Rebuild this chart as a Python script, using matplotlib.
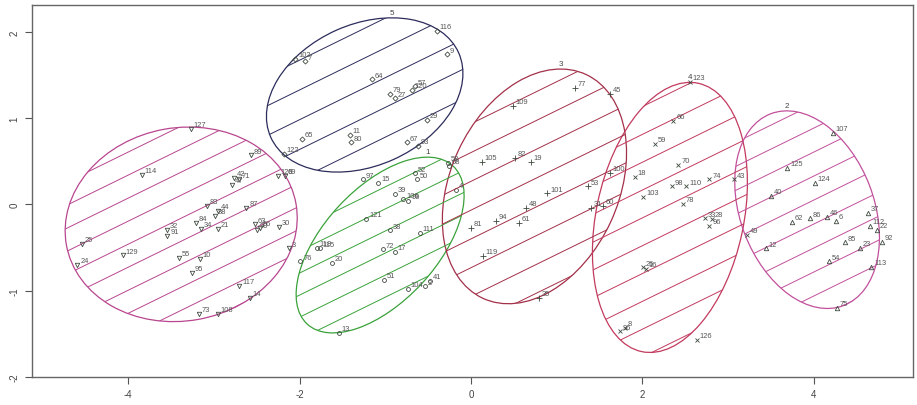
import numpy as np
import matplotlib.pyplot as plt
from matplotlib.patches import Ellipse
from matplotlib.collections import LineCollection

# cluster 6 (left, down triangles)
c6_x = [-3.27, -3.84, -2.57, -2.76, -2.71, -2.79, -2.25, -2.17, -3.08, -2.95, -2.99, -2.62,
        -3.21, -3.15, -2.95, -3.55, -3.54, -2.52, -2.50, -2.46, -2.24, -4.54, -4.06, -4.59,
        -2.12, -3.41, -3.16, -3.25, -2.70, -2.58, -3.17, -2.95]
c6_y = [0.88, 0.34, 0.57, 0.31, 0.29, 0.23, 0.33, 0.33, -0.02, -0.07, -0.13, -0.04,
        -0.21, -0.28, -0.28, -0.29, -0.36, -0.23, -0.29, -0.27, -0.26, -0.46, -0.59, -0.70,
        -0.51, -0.62, -0.63, -0.79, -0.94, -1.08, -1.27, -1.27]
c6_lab = ["127", "114", "89", "42", "71", "47", "128", "69", "83", "44", "88", "87",
          "84", "34", "21", "32", "91", "63", "90", "56", "30", "25", "129", "24",
          "3", "55", "10", "95", "117", "14", "73", "108"]

# cluster 5 (top, diamonds)
c5_x = [-0.40, -2.05, -1.94, -0.28, -1.16, -0.95, -0.89, -0.69, -0.65, -0.51, -1.97, -1.41,
        -1.40, -0.75, -0.62, -2.18]
c5_y = [2.01, 1.69, 1.66, 1.74, 1.45, 1.28, 1.23, 1.33, 1.37, 0.98, 0.76, 0.81,
        0.72, 0.72, 0.68, 0.59]
c5_lab = ["116", "102", "7", "9", "64", "79", "27", "120", "57", "29", "65", "11",
          "80", "67", "93", "122"]

# cluster 1 (green, circles)
c1_x = [-0.27, -1.26, -1.08, -0.65, -0.63, -0.89, -0.79, -0.73, -1.22, -0.95, -0.60, -1.80,
        -1.76, -1.03, -0.89, -1.99, -1.62, -1.02, -0.74, -0.54, -0.48, -1.54, -0.26, -0.18]
c1_y = [0.48, 0.29, 0.25, 0.36, 0.29, 0.12, 0.06, 0.04, -0.17, -0.30, -0.33, -0.50,
        -0.51, -0.52, -0.55, -0.66, -0.68, -0.87, -0.98, -0.95, -0.89, -1.49, 0.45, 0.17]
c1_lab = ["58", "97", "15", "52", "50", "39", "106", "99", "121", "38", "111", "118",
          "115", "72", "17", "76", "20", "51", "104", "2", "41", "13", "68", "4"]

# cluster 3 (centre, plus)
c3_x = [1.21, 1.62, 0.49, 0.13, 0.51, 0.70, 1.62, 1.36, 0.89, 0.64, 0.56, 0.29,
        0.00, 1.40, 1.54, 0.14, 0.79]
c3_y = [1.35, 1.28, 1.14, 0.49, 0.54, 0.49, 0.37, 0.21, 0.13, -0.04, -0.21, -0.19,
        -0.27, -0.04, -0.02, -0.60, -1.08]
c3_lab = ["77", "45", "109", "105", "82", "19", "100", "53", "101", "48", "61", "94",
          "81", "31", "60", "119", "35"]

# cluster 4 (right centre, crosses)
c4_x = [2.55, 2.36, 2.15, 2.42, 1.91, 2.34, 2.51, 2.78, 2.01, 2.47, 3.07, 2.73,
        2.81, 2.78, 2.01, 2.04, 1.74, 1.80, 2.63, 3.22]
c4_y = [1.42, 0.97, 0.70, 0.46, 0.32, 0.21, 0.21, 0.29, 0.09, 0.01, 0.29, -0.16,
        -0.17, -0.25, -0.73, -0.75, -1.47, -1.43, -1.57, -0.35]
c4_lab = ["123", "66", "59", "70", "18", "98", "110", "74", "103", "78", "43", "33",
          "28", "96", "26", "16", "36", "8", "126", "49"]

# cluster 2 (right, triangles)
c2_x = [4.22, 3.69, 4.01, 3.50, 3.74, 3.95, 4.15, 4.26, 4.63, 4.65, 4.73, 4.79,
        4.36, 4.54, 4.17, 4.67, 3.44, 4.27]
c2_y = [0.83, 0.42, 0.25, 0.10, -0.20, -0.16, -0.14, -0.19, -0.10, -0.25, -0.29, -0.43,
        -0.44, -0.50, -0.66, -0.72, -0.51, -1.20]
c2_lab = ["107", "125", "124", "40", "62", "86", "46", "6", "37", "112", "22", "92",
          "85", "23", "54", "113", "12", "75"]

# ellipses: centre, semi axes, angle
ell_cx = [-3.38, -1.24, -1.06, 0.74, 2.32, 3.92]
ell_cy = [-0.23, 1.27, -0.47, 0.21, -0.15, -0.06]
ell_a = [1.36, 1.20, 1.25, 1.43, 1.59, 1.19]
ell_b = [1.12, 0.82, 0.66, 0.98, 0.86, 0.78]
ell_ang = [10, 24, 47, 65, 78, 111]
shade_gap = [0.24, 0.31, 0.23, 0.30, 0.29, 0.25]
cluster_names = ["", "5", "1", "3", "4", "2"]

xs = [c6_x, c5_x, c1_x, c3_x, c4_x, c2_x]
ys = [c6_y, c5_y, c1_y, c3_y, c4_y, c2_y]
labs = [c6_lab, c5_lab, c1_lab, c3_lab, c4_lab, c2_lab]
colors = ["#b8468f", "#2c2c5c", "#3aa23a", "#a33049", "#c23a5e", "#c2509c"]
markers = ["v", "D", "o", "+", "x", "^"]
msizes = [3.2, 2.6, 2.8, 4.0, 3.2, 3.2]

fig = plt.figure(figsize=(9.17, 4.06), dpi=100)
ax = fig.add_axes([32 / 917, 28 / 406, 881 / 917, 372 / 406])

hatch_angle = np.deg2rad(26)
u = np.array([np.cos(hatch_angle), np.sin(hatch_angle)])
nrm = np.array([-np.sin(hatch_angle), np.cos(hatch_angle)])

for k in range(6):
    c = np.array([ell_cx[k], ell_cy[k]])
    ell = Ellipse(c, 2 * ell_a[k], 2 * ell_b[k], angle=ell_ang[k],
                  facecolor="none", edgecolor=colors[k], lw=0.9)
    ax.add_patch(ell)
    R = max(ell_a[k], ell_b[k]) * 1.1
    segs = []
    for d in np.arange(-R + shade_gap[k] / 2, R, shade_gap[k]):
        p = c + d * nrm
        segs.append([p - R * u, p + R * u])
    lc = LineCollection(segs, colors=colors[k], linewidths=0.7)
    ax.add_collection(lc)
    lc.set_clip_path(ell)

    ax.plot(xs[k], ys[k], linestyle="none", marker=markers[k], markersize=msizes[k],
            markerfacecolor="none", markeredgecolor="#3f4a3f", markeredgewidth=0.6)
    for x, y, t in zip(xs[k], ys[k], labs[k]):
        ax.annotate(t, (x, y), xytext=(2, 2), textcoords="offset points",
                    fontsize=5.4, color="#555555", family="Liberation Sans")

    # cluster name above the top point of the ellipse
    th = np.deg2rad(ell_ang[k])
    t0 = np.arctan2(ell_b[k] * np.cos(th), ell_a[k] * np.sin(th))
    top = c + np.array([ell_a[k] * np.cos(t0) * np.cos(th) - ell_b[k] * np.sin(t0) * np.sin(th),
                        ell_a[k] * np.cos(t0) * np.sin(th) + ell_b[k] * np.sin(t0) * np.cos(th)])
    if cluster_names[k]:
        ax.annotate(cluster_names[k], tuple(top), xytext=(0, 3), textcoords="offset points",
                    ha="center", fontsize=5.8, color="#444444", family="Liberation Sans")

ax.set_xlim(-5.12, 5.155)
ax.set_ylim(-2.0, 2.313)
ax.set_xticks([-4, -2, 0, 2, 4])
ax.set_xticklabels(["-4", "-2", "0", "2", "4"])
ax.set_yticks([-2, -1, 0, 1, 2])
ax.set_yticklabels(["-2", "-1", "0", "1", "2"], rotation=90, va="center")
ax.tick_params(length=5, width=0.8, color="#555555", labelsize=7, labelcolor="#444444", pad=4)
for lbl in ax.get_xticklabels() + ax.get_yticklabels():
    lbl.set_family("Liberation Sans")
for s in ax.spines.values():
    s.set_color("#666666")
    s.set_linewidth(1.0)

fig.savefig("out.png", dpi=100)
